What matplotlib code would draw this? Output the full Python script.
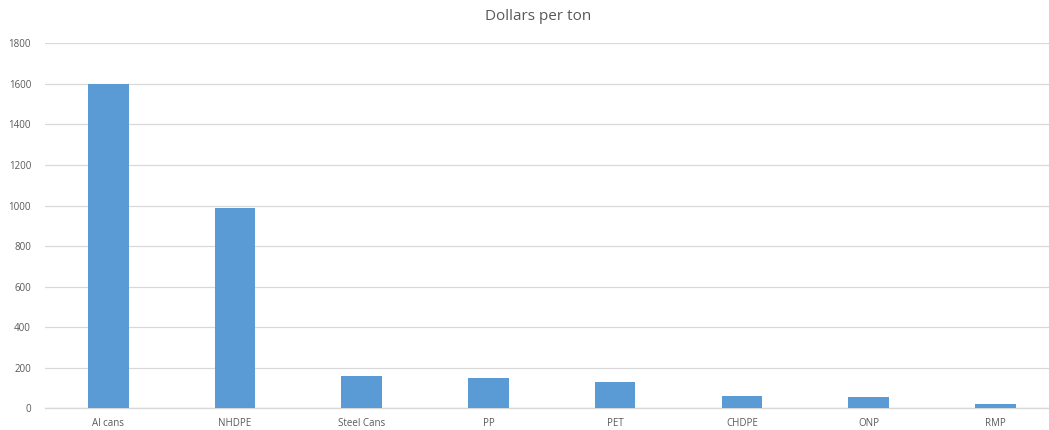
import matplotlib
matplotlib.use("Agg")
import matplotlib.pyplot as plt

# values
categories = ["Al cans", "NHDPE", "Steel Cans", "PP", "PET", "CHDPE", "ONP", "RMP"]
dollars_per_ton = [1598, 987, 159, 150, 128, 59, 56, 21]
y_ticks = [0, 200, 400, 600, 800, 1000, 1200, 1400, 1600, 1800]

BAR = "#5B9BD5"; GRID = "#D9D9D9"; TXT = "#595959"
plt.rcParams["font.family"] = ["Open Sans", "DejaVu Sans"]

fig = plt.figure(figsize=(10.49, 4.30), dpi=100)
# axes run slightly past the right edge, as in the cropped original
ax = fig.add_axes([45 / 1049, 1 - 408.3 / 430, 1013.6 / 1049, (408.3 - 43.3) / 430])

x = range(len(categories))
ax.bar(x, dollars_per_ton, width=0.32, color=BAR, zorder=3)
ax.set_xlim(-0.5, len(categories) - 0.5)
ax.set_ylim(0, 1800)
ax.set_yticks(y_ticks)
ax.set_yticklabels([str(v) for v in y_ticks], fontsize=7, color=TXT)
ax.set_xticks(list(x))
ax.set_xticklabels(categories, fontsize=7, color=TXT)
ax.tick_params(axis="both", length=0)
ax.tick_params(axis="y", pad=10)
ax.tick_params(axis="x", pad=7)
ax.grid(axis="y", color=GRID, linewidth=0.9, zorder=0)
for s in ["top", "right", "left"]:
    ax.spines[s].set_visible(False)
ax.spines["bottom"].set_color(GRID)
ax.spines["bottom"].set_linewidth(1.0)

fig.text(538 / 1049, 1 - 16 / 430, "Dollars per ton", ha="center", va="center", fontsize=11, color=TXT)
fig.savefig("out.png", dpi=100)
